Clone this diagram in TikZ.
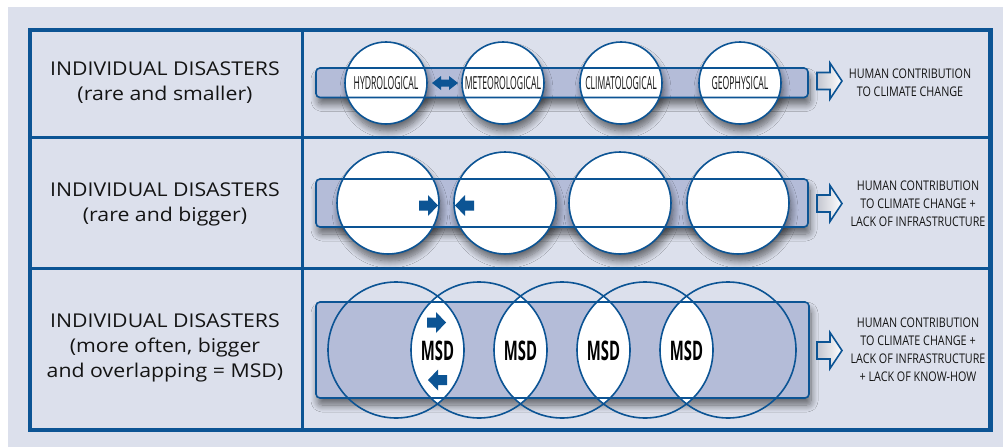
\documentclass[tikz,border=0pt]{standalone}
\usepackage{fontspec}
\setmainfont[FakeStretch=1.12]{Open Sans}
\newfontfamily\condfont[FakeStretch=0.81]{Open Sans}
\newfontfamily\narrowfont[FakeStretch=0.48]{Open Sans}
\newfontfamily\msdfont[FakeStretch=0.55]{Open Sans}
\usetikzlibrary{shadows.blur}

\definecolor{pagebg}{RGB}{220,224,236}
\definecolor{navy}{RGB}{12,84,148}
\definecolor{barfill}{RGB}{180,188,216}
\definecolor{ink}{RGB}{20,20,20}
\definecolor{arrowgrey}{RGB}{196,198,208}

\tikzset{
  softshadow/.style={blur shadow={shadow xshift=2pt, shadow yshift=-7pt,
      shadow blur radius=7pt, shadow blur steps=10, shadow opacity=55}},
  barbody/.style={fill=barfill, rounded corners=4},
  barline/.style={draw=navy, line width=1.6, rounded corners=4},
  bubble/.style={circle, draw=navy, line width=1.6, fill=white, inner sep=0pt},
  rowlabel/.style={align=center, text=ink, font=\fontsize{19}{25}\selectfont},
  effect/.style={align=center, text=ink, font=\condfont\fontsize{13.3}{18}\selectfont},
  kind/.style={text=ink, font=\narrowfont\fontsize{18}{18}\selectfont},
  msd/.style={text=black, font=\msdfont\bfseries\fontsize{27}{27}\selectfont},
  outarrow/.style={draw=navy, line width=1.6, left color=arrowgrey, right color=white},
  solidarrow/.style={fill=navy},
}

% hollow block arrow: left edge x, centre y
\newcommand\hollowarrow[2]{%
  \path[outarrow] (#1,#2-8.5) -- (#1+13,#2-8.5) -- (#1+13,#2-18) -- (#1+25,#2)
    -- (#1+13,#2+18) -- (#1+13,#2+8.5) -- (#1,#2+8.5) -- cycle;}
% small solid arrow pointing right: left edge x, centre y
\newcommand\rightblock[2]{%
  \path[solidarrow] (#1,#2-5) -- (#1+9,#2-5) -- (#1+9,#2-10.5) -- (#1+19,#2)
    -- (#1+9,#2+10.5) -- (#1+9,#2+5) -- (#1,#2+5) -- cycle;}
% small solid arrow pointing left: right edge x, centre y
\newcommand\leftblock[2]{%
  \path[solidarrow] (#1,#2-5) -- (#1-9,#2-5) -- (#1-9,#2-10.5) -- (#1-19,#2)
    -- (#1-9,#2+10.5) -- (#1-9,#2+5) -- (#1,#2+5) -- cycle;}

\begin{document}
\begin{tikzpicture}[x=1pt,y=-1pt]
\useasboundingbox (0,0) rectangle (1003,447);
\fill[pagebg] (8,7) rectangle (1003,447);

% table frame
\draw[navy, line width=3] (30,137.3) -- (990,137.3);
\draw[navy, line width=3] (30,268.7) -- (990,268.7);
\draw[navy, line width=3] (302.5,30) -- (302.5,430);
\draw[navy, line width=4.5] (30.2,30.2) rectangle (990.5,430);

% row labels
\node[rowlabel] (L1) at (165,82.5) {INDIVIDUAL DISASTERS\\(rare and smaller)};
\node[rowlabel] (L2) at (165,204.5) {INDIVIDUAL DISASTERS\\(rare and bigger)};
\node[rowlabel] (L3) at (165,348) {INDIVIDUAL DISASTERS\\(more often, bigger\\and overlapping = MSD)};

% ---------- row 1: separate, small disasters ----------
\path[barbody, softshadow] (316,68) rectangle (808,97.5);
\node[bubble, minimum size=82, softshadow] (h1) at (386,83) {};
\node[bubble, minimum size=82, softshadow] (m1) at (503,83) {};
\node[bubble, minimum size=82, softshadow] (c1) at (621,83) {};
\node[bubble, minimum size=82, softshadow] (g1) at (740,83) {};
\path[barline] (316,68) rectangle (808,97.5);
\node[kind] at (h1) {HYDROLOGICAL};
\node[kind] at (m1) {METEOROLOGICAL};
\node[kind] at (c1) {CLIMATOLOGICAL};
\node[kind] at (g1) {GEOPHYSICAL};
\path[solidarrow] (432,83) -- (441,76) -- (441,79.5) -- (449,79.5) -- (449,76)
  -- (458,83) -- (449,90) -- (449,86.5) -- (441,86.5) -- (441,90) -- cycle;
\hollowarrow{817}{81}
\node[effect] (R1) at (910,83) {HUMAN CONTRIBUTION\\TO CLIMATE CHANGE};

% ---------- row 2: separate, bigger disasters ----------
\path[barbody, softshadow] (316,179) rectangle (808,227);
\node[bubble, minimum size=102, softshadow] (a2) at (388,203) {};
\node[bubble, minimum size=102, softshadow] (b2) at (505,203) {};
\node[bubble, minimum size=102, softshadow] (c2) at (620,203) {};
\node[bubble, minimum size=102, softshadow] (d2) at (738,203) {};
\path[barline] (316,179) rectangle (808,227);
\rightblock{419}{205.5}
\leftblock{474}{205.5}
\hollowarrow{817}{203.5}
\node[effect] (R2) at (918,203.5) {HUMAN CONTRIBUTION\\TO CLIMATE CHANGE +\\LACK OF INFRASTRUCTURE};

% ---------- row 3: overlapping disasters ----------
\path[barbody, softshadow] (316,302) rectangle (809,398);
\foreach \i/\x in {1/396,2/479,3/562,4/645,5/728}
  \coordinate (o\i) at (\x,350);
\foreach \i/\j in {1/2,2/3,3/4,4/5}{
  \begin{scope}
    \clip (o\i) circle (68);
    \fill[white] (o\j) circle (68);
  \end{scope}}
\foreach \i in {1,...,5}
  \draw[navy, line width=1.6] (o\i) circle (68);
\path[barline] (316,302) rectangle (809,398);
\node[msd] (s1) at (437.5,351) {MSD};
\node[msd] (s2) at (520.5,351) {MSD};
\node[msd] (s3) at (603.5,351) {MSD};
\node[msd] (s4) at (686.5,351) {MSD};
\rightblock{427}{322.5}
\leftblock{447}{380}
\hollowarrow{817}{350.5}
\node[effect] (R3) at (918,350) {HUMAN CONTRIBUTION\\TO CLIMATE CHANGE +\\LACK OF INFRASTRUCTURE\\+ LACK OF KNOW-HOW};
\end{tikzpicture}
\end{document}
